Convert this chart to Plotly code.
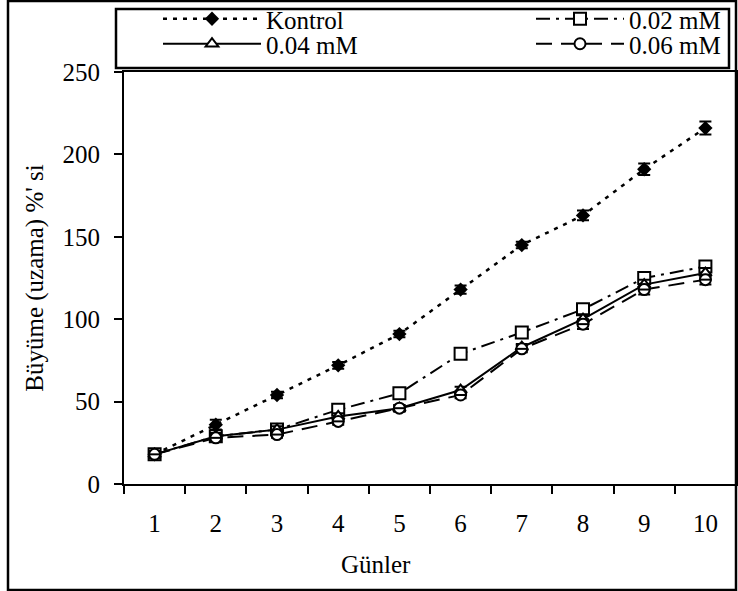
import plotly.graph_objects as go

# ---- data ----
days = [1, 2, 3, 4, 5, 6, 7, 8, 9, 10]
day_labels = ["1", "2", "3", "4", "5", "6", "7", "8", "9", "10"]

kontrol = [18, 36, 54, 72, 91, 118, 145, 163, 191, 216]
kontrol_err = [2, 3, 2, 2, 2, 2.5, 2, 3, 3.5, 4]

mm002 = [18, 29, 33, 45, 55, 79, 92, 106, 125, 132]
mm002_err = [2, 2, 2, 2, 2, 2, 2, 3, 3, 3]

mm004 = [18, 29, 33, 41, 46, 57, 83, 100, 121, 128]
mm004_err = [2, 2, 2, 2, 2, 2, 2, 3, 3, 3]

mm006 = [18, 28, 30, 38, 46, 54, 82, 97, 118, 124]
mm006_err = [2, 2, 2, 2, 2, 2, 2, 3, 3, 3]

y_ticks = [0, 50, 100, 150, 200, 250]

FONT = "Liberation Serif, Times New Roman, serif"
BLACK = "#000000"


def err(vals):
    return dict(type="data", array=vals, visible=True, color=BLACK,
                thickness=2, width=6)


fig = go.Figure()

fig.add_trace(go.Scatter(
    x=days, y=kontrol, name="Kontrol", mode="lines+markers", legend="legend",
    line=dict(color=BLACK, width=2.5, dash="4px,6px"),
    marker=dict(symbol="diamond", size=11, color=BLACK),
    error_y=err(kontrol_err),
))
fig.add_trace(go.Scatter(
    x=days, y=mm002, name="0.02 mM", mode="lines+markers", legend="legend2",
    line=dict(color=BLACK, width=2, dash="14px,6px,3px,6px"),
    marker=dict(symbol="square", size=12, color="white",
                line=dict(color=BLACK, width=2)),
    error_y=err(mm002_err),
))
fig.add_trace(go.Scatter(
    x=days, y=mm004, name="0.04 mM", mode="lines+markers", legend="legend3",
    line=dict(color=BLACK, width=2),
    marker=dict(symbol="triangle-up", size=11, color="white",
                line=dict(color=BLACK, width=2)),
    error_y=err(mm004_err),
))
fig.add_trace(go.Scatter(
    x=days, y=mm006, name="0.06 mM", mode="lines+markers", legend="legend4",
    legendgroup="g006",
    line=dict(color=BLACK, width=2, dash="16px,9px"),
    marker=dict(symbol="circle", size=11, color="white",
                line=dict(color=BLACK, width=2)),
    error_y=err(mm006_err),
))
fig.add_trace(go.Scatter(
    x=days, y=mm006, name="0.06 mM", mode="markers", legendgroup="g006",
    legend="legend4", showlegend=False, hoverinfo="skip",
    marker=dict(symbol="line-ew", size=9, color=BLACK,
                line=dict(color=BLACK, width=2)),
))

# plot area in pixels: x 124..736, y 72..484
L, R, T, B = 124, 2, 72, 107
W, H = 738, 591
pw, ph = W - L - R, H - T - B


def px(x):
    return (x - L) / pw


def py(y):
    return (H - B - y) / ph


def leg(x0, yc, iw, anchor="left"):
    return dict(
        orientation="v", x=px(x0), y=py(yc), xanchor=anchor, yanchor="middle",
        bgcolor="rgba(0,0,0,0)", borderwidth=0,
        font=dict(family=FONT, size=25, color=BLACK),
        itemwidth=iw, tracegroupgap=0,
    )


fig.update_layout(
    width=W, height=H,
    margin=dict(l=L, r=R, t=T, b=B, pad=0, autoexpand=False),
    paper_bgcolor="white", plot_bgcolor="white",
    font=dict(family=FONT, size=25, color=BLACK),
    showlegend=True,
    legend=leg(158, 19, 98),
    legend2=leg(726, 19, 88, "right"),
    legend3=leg(158, 44, 98),
    legend4=leg(726, 44, 88, "right"),
    xaxis=dict(
        range=[0.5, 10.5], tickmode="array", tickvals=days, ticktext=day_labels,
        ticks="", showgrid=False, zeroline=False,
        showline=True, linecolor=BLACK, linewidth=2, mirror=True,
        ticklabelstandoff=16,
        minor=dict(tickvals=[d - 0.5 for d in days] + [10.5], ticks="outside",
                   ticklen=8, tickwidth=2, tickcolor=BLACK, showgrid=False),
    ),
    yaxis=dict(
        range=[0, 250], tickmode="array", tickvals=y_ticks,
        ticks="outside", ticklen=8, tickwidth=2, tickcolor=BLACK,
        showgrid=False, zeroline=False,
        showline=True, linecolor=BLACK, linewidth=2, mirror=True,
        ticklabelstandoff=9,
        title=dict(text="Büyüme (uzama) %' si", standoff=12,
                   font=dict(family=FONT, size=25)),
    ),
    annotations=[dict(
        text="Günler", xref="paper", yref="paper", x=px(376), y=py(564),
        xanchor="center", yanchor="middle", showarrow=False,
        font=dict(family=FONT, size=25, color=BLACK),
    )],
    shapes=[
        # outer chart frame
        dict(type="rect", xref="paper", yref="paper",
             x0=px(8), x1=px(736), y0=py(590), y1=py(1),
             line=dict(color=BLACK, width=2.5), fillcolor="rgba(0,0,0,0)",
             layer="above"),
        # legend frame
        dict(type="rect", xref="paper", yref="paper",
             x0=px(116), x1=px(729), y0=py(68), y1=py(9),
             line=dict(color=BLACK, width=2.5), fillcolor="rgba(0,0,0,0)",
             layer="above"),
    ],
)

fig.write_html("out.html")
